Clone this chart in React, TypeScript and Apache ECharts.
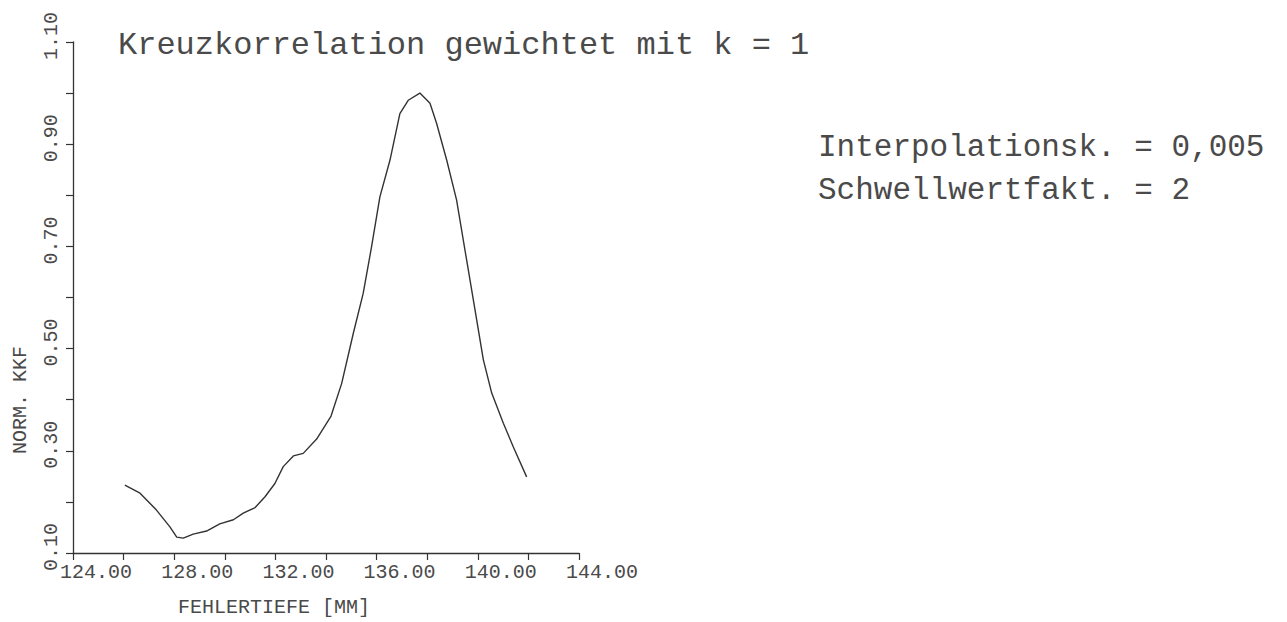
import React, { useEffect, useRef } from "react";
import * as echarts from "echarts";

const depth = [126.05, 126.65, 127.3, 127.83, 128.1, 128.36, 128.75, 129.28, 129.8, 130.34, 130.73, 131.2, 131.59, 131.98, 132.31, 132.71, 133.1, 133.63, 134.2, 134.62, 135.08, 135.47, 135.8, 136.13, 136.53, 136.92, 137.25, 137.71, 138.11, 138.37, 138.77, 139.16, 139.56, 139.89, 140.22, 140.55, 141.01, 141.4, 141.93];
const kkf = [0.233, 0.217, 0.184, 0.151, 0.131, 0.129, 0.137, 0.143, 0.157, 0.165, 0.178, 0.189, 0.21, 0.236, 0.269, 0.29, 0.295, 0.323, 0.368, 0.432, 0.53, 0.608, 0.699, 0.797, 0.869, 0.96, 0.986, 1.0, 0.98, 0.941, 0.869, 0.791, 0.673, 0.576, 0.478, 0.413, 0.354, 0.308, 0.249];

const titleText = "Kreuzkorrelation gewichtet mit k = 1";
const noteLines = ["Interpolationsk. = 0,005", "Schwellwertfakt. = 2"];
const xName = "FEHLERTIEFE [MM]";
const yName = "NORM. KKF";

const FONT = "Liberation Mono";
const INK = "#4a4a4a";

export default function App() {
  const ref = useRef<HTMLDivElement>(null);
  useEffect(() => {
    if (!ref.current) return;
    const chart = echarts.init(ref.current, undefined, { renderer: "svg" });
    const data = depth.map((d, i) => [d, kkf[i]]);
    chart.setOption({
      animation: false,
      backgroundColor: "#ffffff",
      grid: { left: 73, right: 708, top: 42, bottom: 69, containLabel: false },
      xAxis: {
        type: "value",
        min: 124,
        max: 144,
        interval: 2,
        axisLine: { show: true, lineStyle: { color: "#333", width: 1.3 } },
        axisTick: { show: true, length: 7, lineStyle: { color: "#333", width: 1.2 } },
        splitLine: { show: false },
        axisLabel: {
          fontFamily: FONT,
          fontSize: 20,
          color: INK,
          margin: 9,
          align: "center",
          padding: [0, 0, 0, 46],
          formatter: (v: number) => (Math.round(v - 124) % 4 === 0 ? v.toFixed(2) : ""),
        },
      },
      yAxis: {
        type: "value",
        min: 0.1,
        max: 1.1,
        interval: 0.1,
        axisLine: { show: true, lineStyle: { color: "#333", width: 1.3 } },
        axisTick: { show: true, length: 7, lineStyle: { color: "#333", width: 1.2 } },
        splitLine: { show: false },
        axisLabel: {
          fontFamily: FONT,
          fontSize: 20,
          color: INK,
          rotate: 90,
          margin: 12,
          padding: [0, 0, 0, 12],
          formatter: (v: number) => (Math.round(v * 10) % 2 === 1 ? v.toFixed(2) : ""),
        },
      },
      series: [
        {
          type: "line",
          data,
          showSymbol: false,
          smooth: false,
          lineStyle: { color: "#333", width: 1.4 },
        },
      ],
      graphic: [
        {
          type: "text",
          left: 118,
          top: 29,
          style: { text: titleText, fontFamily: FONT, fontSize: 32, fill: INK },
        },
        {
          type: "text",
          x: 818,
          y: 147,
          style: { text: noteLines[0], fontFamily: FONT, fontSize: 31, fill: INK, textVerticalAlign: "middle" },
        },
        {
          type: "text",
          x: 818,
          y: 190,
          style: { text: noteLines[1], fontFamily: FONT, fontSize: 31, fill: INK, textVerticalAlign: "middle" },
        },
        {
          type: "text",
          x: 274,
          y: 607,
          style: { text: xName, fontFamily: FONT, fontSize: 20, fill: INK, textAlign: "center", textVerticalAlign: "middle" },
        },
        {
          type: "text",
          x: 20,
          y: 400,
          rotation: Math.PI / 2,
          style: { text: yName, fontFamily: FONT, fontSize: 20, fill: INK, textAlign: "center", textVerticalAlign: "middle" },
        },
      ],
    });
    return () => chart.dispose();
  }, []);
  return (
    <div
      ref={ref}
      style={{ position: "fixed", left: 0, top: 0, width: 1287, height: 622, background: "#fff" }}
    />
  );
}
